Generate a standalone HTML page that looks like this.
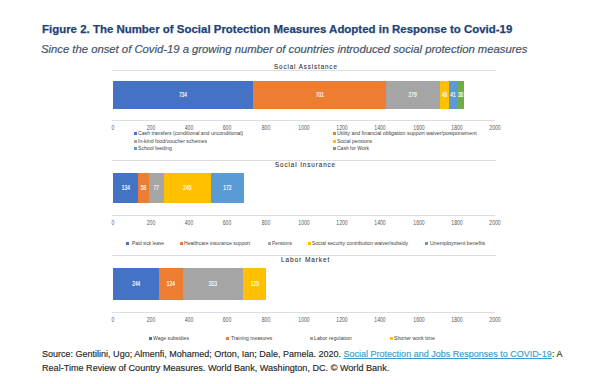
<!DOCTYPE html><html><head><meta charset="utf-8"><style>
*{margin:0;padding:0;box-sizing:border-box}
html,body{width:600px;height:384px;background:#fff;overflow:hidden;position:relative}
body{font-family:"Liberation Sans",sans-serif}
.t{position:absolute;white-space:nowrap;line-height:1;transform-origin:0 0}
.ln{position:absolute;height:1px;background:#DEDEDE}
.seg{position:absolute}
.dl{position:absolute;color:#fff;font-size:6.3px;line-height:1;text-align:center;white-space:nowrap;transform:scaleX(0.78);-webkit-text-stroke:0.15px #fff}
.tk{position:absolute;color:#595959;font-size:6.4px;line-height:1;width:30px;text-align:center;transform:scaleX(0.8)}
.mk{position:absolute;width:3px;height:3px}
</style></head><body>
<div class="t" style="left:41.50px;top:24.20px;font-size:11.067px;transform:scaleX(1.0363);font-weight:bold;color:#1E4376;-webkit-text-stroke:0.25px #1E4376">Figure 2. The Number of Social Protection Measures Adopted in Response to Covid-19</div>
<div class="t" style="left:41.00px;top:42.90px;font-size:11.714px;transform:scaleX(0.9634);font-style:italic;color:#44546A;-webkit-text-stroke:0.2px #44546A">Since the onset of Covid-19 a growing number of countries introduced social protection measures</div>
<div class="t" style="left:274.00px;top:62.60px;font-size:7.286px;transform:scaleX(0.8630);color:#303030;letter-spacing:0.14em;-webkit-text-stroke:0.1px #303030">Social Assistance</div>
<div class="t" style="left:275.30px;top:161.30px;font-size:7.714px;transform:scaleX(0.8219);color:#303030;letter-spacing:0.14em;-webkit-text-stroke:0.1px #303030">Social Insurance</div>
<div class="t" style="left:281.30px;top:257.00px;font-size:7.143px;transform:scaleX(0.9113);color:#303030;letter-spacing:0.14em;-webkit-text-stroke:0.1px #303030">Labor Market</div>
<div class="t" style="left:41.70px;top:348.80px;font-size:9.571px;transform:scaleX(0.9423);color:#262626;-webkit-text-stroke:0.15px #262626">Source: Gentilini, Ugo; Almenfi, Mohamed; Orton, Ian; Dale, Pamela. 2020. <span style="color:#3A9BC8;-webkit-text-stroke:0.15px #3A9BC8;text-decoration:underline">Social Protection and Jobs Responses to COVID-19</span>: A</div>
<div class="t" style="left:41.70px;top:362.80px;font-size:9.571px;transform:scaleX(0.9507);color:#262626;-webkit-text-stroke:0.15px #262626">Real-Time Review of Country Measures. World Bank, Washington, DC. © World Bank.</div>
<div class="ln" style="left:112px;width:384px;top:70px"></div>
<div class="seg" style="left:112.70px;width:139.97px;top:81px;height:28px;background:#4472C4"></div>
<div class="dl" style="left:112.70px;width:139.97px;top:92.40px">734</div>
<div class="seg" style="left:252.67px;width:133.68px;top:81px;height:28px;background:#ED7D31"></div>
<div class="dl" style="left:252.67px;width:133.68px;top:92.40px">701</div>
<div class="seg" style="left:386.35px;width:53.21px;top:81px;height:28px;background:#A5A5A5"></div>
<div class="dl" style="left:386.35px;width:53.21px;top:92.40px">279</div>
<div class="seg" style="left:439.56px;width:9.15px;top:81px;height:28px;background:#FFC000"></div>
<div class="dl" style="left:439.56px;width:9.15px;top:92.40px">48</div>
<div class="seg" style="left:448.71px;width:7.82px;top:81px;height:28px;background:#5B9BD5"></div>
<div class="dl" style="left:448.71px;width:7.82px;top:92.40px">41</div>
<div class="seg" style="left:456.53px;width:7.25px;top:81px;height:28px;background:#70AD47"></div>
<div class="dl" style="left:456.53px;width:7.25px;top:92.40px">38</div>
<div class="ln" style="left:112px;width:383px;top:120px"></div>
<div class="tk" style="left:97.50px;top:125.20px">0</div>
<div class="tk" style="left:135.75px;top:125.20px">200</div>
<div class="tk" style="left:174.00px;top:125.20px">400</div>
<div class="tk" style="left:212.25px;top:125.20px">600</div>
<div class="tk" style="left:250.50px;top:125.20px">800</div>
<div class="tk" style="left:288.75px;top:125.20px">1000</div>
<div class="tk" style="left:327.00px;top:125.20px">1200</div>
<div class="tk" style="left:365.25px;top:125.20px">1400</div>
<div class="tk" style="left:403.50px;top:125.20px">1600</div>
<div class="tk" style="left:441.75px;top:125.20px">1800</div>
<div class="tk" style="left:480.00px;top:125.20px">2000</div>
<div class="ln" style="left:112px;width:384px;top:160px"></div>
<div class="seg" style="left:112.70px;width:25.55px;top:173px;height:30px;background:#4472C4"></div>
<div class="dl" style="left:112.70px;width:25.55px;top:185.40px">134</div>
<div class="seg" style="left:138.25px;width:11.06px;top:173px;height:30px;background:#ED7D31"></div>
<div class="dl" style="left:138.25px;width:11.06px;top:185.40px">58</div>
<div class="seg" style="left:149.31px;width:14.68px;top:173px;height:30px;background:#A5A5A5"></div>
<div class="dl" style="left:149.31px;width:14.68px;top:185.40px">77</div>
<div class="seg" style="left:164.00px;width:46.72px;top:173px;height:30px;background:#FFC000"></div>
<div class="dl" style="left:164.00px;width:46.72px;top:185.40px">245</div>
<div class="seg" style="left:210.72px;width:32.80px;top:173px;height:30px;background:#5B9BD5"></div>
<div class="dl" style="left:210.72px;width:32.80px;top:185.40px">172</div>
<div class="ln" style="left:112px;width:383px;top:215px"></div>
<div class="tk" style="left:97.50px;top:219.80px">0</div>
<div class="tk" style="left:135.75px;top:219.80px">200</div>
<div class="tk" style="left:174.00px;top:219.80px">400</div>
<div class="tk" style="left:212.25px;top:219.80px">600</div>
<div class="tk" style="left:250.50px;top:219.80px">800</div>
<div class="tk" style="left:288.75px;top:219.80px">1000</div>
<div class="tk" style="left:327.00px;top:219.80px">1200</div>
<div class="tk" style="left:365.25px;top:219.80px">1400</div>
<div class="tk" style="left:403.50px;top:219.80px">1600</div>
<div class="tk" style="left:441.75px;top:219.80px">1800</div>
<div class="tk" style="left:480.00px;top:219.80px">2000</div>
<div class="ln" style="left:112px;width:384px;top:255px"></div>
<div class="seg" style="left:112.70px;width:46.53px;top:268px;height:32px;background:#4472C4"></div>
<div class="dl" style="left:112.70px;width:46.53px;top:281.40px">244</div>
<div class="seg" style="left:159.23px;width:23.65px;top:268px;height:32px;background:#ED7D31"></div>
<div class="dl" style="left:159.23px;width:23.65px;top:281.40px">124</div>
<div class="seg" style="left:182.88px;width:59.69px;top:268px;height:32px;background:#A5A5A5"></div>
<div class="dl" style="left:182.88px;width:59.69px;top:281.40px">313</div>
<div class="seg" style="left:242.57px;width:23.84px;top:268px;height:32px;background:#FFC000"></div>
<div class="dl" style="left:242.57px;width:23.84px;top:281.40px">125</div>
<div class="ln" style="left:112px;width:383px;top:312px"></div>
<div class="tk" style="left:97.50px;top:316.80px">0</div>
<div class="tk" style="left:135.75px;top:316.80px">200</div>
<div class="tk" style="left:174.00px;top:316.80px">400</div>
<div class="tk" style="left:212.25px;top:316.80px">600</div>
<div class="tk" style="left:250.50px;top:316.80px">800</div>
<div class="tk" style="left:288.75px;top:316.80px">1000</div>
<div class="tk" style="left:327.00px;top:316.80px">1200</div>
<div class="tk" style="left:365.25px;top:316.80px">1400</div>
<div class="tk" style="left:403.50px;top:316.80px">1600</div>
<div class="tk" style="left:441.75px;top:316.80px">1800</div>
<div class="tk" style="left:480.00px;top:316.80px">2000</div>
<div class="mk" style="left:133.70px;top:131.70px;background:#4472C4"></div>
<div class="t" style="left:138.00px;top:130.90px;font-size:5.714px;transform:scaleX(0.9052);color:#404040">Cash transfers (conditional and unconditional)</div>
<div class="mk" style="left:332.70px;top:131.70px;background:#ED7D31"></div>
<div class="t" style="left:336.70px;top:130.90px;font-size:5.714px;transform:scaleX(0.9313);color:#404040">Utility and financial obligation support waiver/postponement</div>
<div class="mk" style="left:133.70px;top:139.60px;background:#A5A5A5"></div>
<div class="t" style="left:138.00px;top:138.80px;font-size:5.714px;transform:scaleX(0.9079);color:#404040">In-kind food/voucher schemes</div>
<div class="mk" style="left:332.70px;top:139.60px;background:#FFC000"></div>
<div class="t" style="left:336.70px;top:138.80px;font-size:5.714px;transform:scaleX(0.8750);color:#404040">Social pensions</div>
<div class="mk" style="left:133.70px;top:146.70px;background:#5B9BD5"></div>
<div class="t" style="left:138.00px;top:145.90px;font-size:5.714px;transform:scaleX(0.8947);color:#404040">School feeding</div>
<div class="mk" style="left:332.70px;top:146.70px;background:#70AD47"></div>
<div class="t" style="left:336.70px;top:145.90px;font-size:5.714px;transform:scaleX(0.8784);color:#404040">Cash for Work</div>
<div class="mk" style="left:126.00px;top:242.00px;background:#4472C4"></div>
<div class="t" style="left:131.70px;top:241.20px;font-size:5.714px;transform:scaleX(0.8421);color:#404040">Paid sick leave</div>
<div class="mk" style="left:179.80px;top:242.00px;background:#ED7D31"></div>
<div class="t" style="left:184.20px;top:241.20px;font-size:5.714px;transform:scaleX(0.8880);color:#404040">Healthcare insurance support</div>
<div class="mk" style="left:267.70px;top:242.00px;background:#A5A5A5"></div>
<div class="t" style="left:271.70px;top:241.20px;font-size:5.714px;transform:scaleX(0.8458);color:#404040">Pensions</div>
<div class="mk" style="left:307.70px;top:242.00px;background:#FFC000"></div>
<div class="t" style="left:312.00px;top:241.20px;font-size:5.714px;transform:scaleX(0.9000);color:#404040">Social security contribution waiver/subsidy</div>
<div class="mk" style="left:425.20px;top:242.00px;background:#5B9BD5"></div>
<div class="t" style="left:429.70px;top:241.20px;font-size:5.714px;transform:scaleX(0.9217);color:#404040">Unemployment benefits</div>
<div class="mk" style="left:148.80px;top:336.70px;background:#4472C4"></div>
<div class="t" style="left:153.30px;top:335.90px;font-size:5.714px;transform:scaleX(0.8975);color:#404040">Wage subsidies</div>
<div class="mk" style="left:226.00px;top:336.70px;background:#ED7D31"></div>
<div class="t" style="left:230.80px;top:335.90px;font-size:5.714px;transform:scaleX(0.8766);color:#404040">Training measures</div>
<div class="mk" style="left:310.20px;top:336.70px;background:#A5A5A5"></div>
<div class="t" style="left:314.20px;top:335.90px;font-size:5.714px;transform:scaleX(0.9146);color:#404040">Labor regulation</div>
<div class="mk" style="left:389.80px;top:336.70px;background:#FFC000"></div>
<div class="t" style="left:394.20px;top:335.90px;font-size:5.714px;transform:scaleX(0.9133);color:#404040">Shorter work time</div>
</body></html>
